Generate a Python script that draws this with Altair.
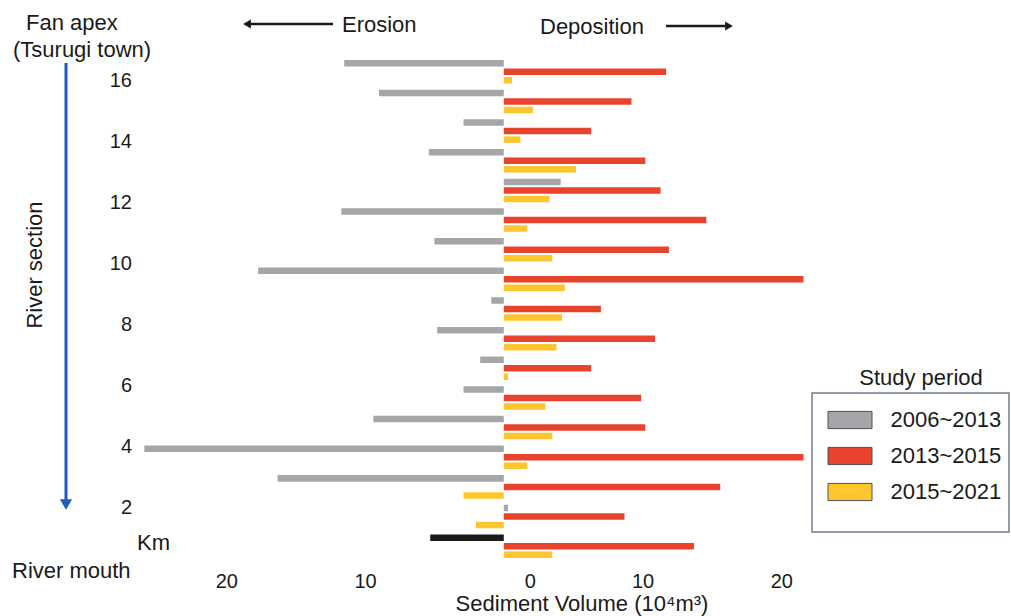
import altair as alt
import pandas as pd

# ---- data ----
sections = list(range(17, 0, -1))          # river sections, apex (top) to mouth (bottom)
periods = ["2006~2013", "2013~2015", "2015~2021"]
vol_2006_2013 = [-11.5, -9.0, -2.9, -5.4, 4.1, -11.7, -5.0, -17.7, -0.9, -4.8,
                 -1.7, -2.9, -9.4, -25.9, -16.3, 0.3, -5.3]
vol_2013_2015 = [11.7, 9.2, 6.3, 10.2, 11.3, 14.6, 11.9, 21.6, 7.0, 10.9,
                 6.3, 9.9, 10.2, 21.6, 15.6, 8.7, 13.7]
vol_2015_2021 = [0.6, 2.1, 1.2, 5.2, 3.3, 1.7, 3.5, 4.4, 4.2, 3.8,
                 0.3, 3.0, 3.5, 1.7, -2.9, -2.0, 3.5]
period_colors = ["#a4a6a9", "#e8432c", "#fdc62e"]
x_ticks = [-20, -10, 0, 10, 20]
km_ticks = [16, 14, 12, 10, 8, 6, 4, 2]

rows = []
for i, s in enumerate(sections):
    for p, vals in zip(periods, [vol_2006_2013, vol_2013_2015, vol_2015_2021]):
        rows.append({"section": s, "period": p, "value": vals[i]})
df = pd.DataFrame(rows)
km_df = pd.DataFrame({"km": km_ticks, "label": [str(k) for k in km_ticks]})
one = pd.DataFrame({"a": [0]})

L, T = 143, 57
W, H = 673, 504
FONT = "Liberation Sans"
INK = "#1a1a1a"


def px(x):
    return x - L


def py(y):
    return y - T


bars = alt.Chart(df).mark_bar().encode(
    x=alt.X(
        "value:Q", stack=None,
        scale=alt.Scale(domain=[-26, 22.5], nice=False),
        axis=alt.Axis(values=x_ticks, labelExpr="'' + abs(datum.value)",
                      domain=False, ticks=False, grid=False, title=None,
                      labelFontSize=20, labelFont=FONT, labelColor=INK,
                      labelPadding=10,
                      labelOffset={"condition": {"test": "datum.value === 0", "value": 26}, "value": 0}),
    ),
    y=alt.Y("section:O", sort="descending",
            scale=alt.Scale(paddingInner=0, paddingOuter=0), axis=None),
    yOffset=alt.YOffset("period:N", sort=periods,
                        scale=alt.Scale(paddingInner=0.235, paddingOuter=0.36)),
    color=alt.condition(
        "datum.section === 1 && datum.period === '2006~2013'",
        alt.value("#1a1a1a"),
        alt.Color("period:N", sort=periods,
                  scale=alt.Scale(domain=periods, range=period_colors),
                  legend=alt.Legend(title=None, orient="none",
                                    legendX=px(827.5), legendY=py(397.5),
                                    symbolType="M-1,-0.39H1V0.39H-1Z",
                                    symbolSize=1936, symbolStrokeColor="#505050",
                                    symbolStrokeWidth=1, labelFontSize=22,
                                    labelFont=FONT, labelColor=INK,
                                    labelOffset=18, rowPadding=2, padding=0)),
    ),
)

km_labels = alt.Chart(km_df).mark_text(
    align="right", baseline="middle", fontSize=20, font=FONT, color=INK
).encode(
    y=alt.Y("km:Q", scale=alt.Scale(domain=[0.263, 16.80], nice=False, zero=False), axis=None),
    x=alt.value(px(132)),
    text="label:N",
)


def label(text, x, y, align="left", size=22, angle=0):
    kw = dict(align=align, baseline="middle", fontSize=size, font=FONT, color=INK, text=text)
    if angle:
        kw["angle"] = angle
    return alt.Chart(one).mark_text(**kw).encode(x=alt.value(px(x)), y=alt.value(py(y)))


texts = [
    label("Fan apex", 26, 23),
    label("(Tsurugi town)", 13, 50),
    label("River section", 35, 265, align="center", angle=270),
    label("River mouth", 12, 571),
    label("Km", 137, 543),
    label("Erosion", 342, 25),
    label("Deposition", 540, 27),
    label("Sediment Volume (10\u2074m\u00b3)", 582, 604, align="center"),
    label("Study period", 921, 378, align="center"),
]

arrows = [
    alt.Chart(one).mark_rule(color=INK, strokeWidth=2.5).encode(
        x=alt.value(px(250)), x2=alt.value(px(333)), y=alt.value(py(24))),
    alt.Chart(one).mark_point(shape="triangle-left", filled=True, size=80, color=INK, opacity=1).encode(
        x=alt.value(px(247)), y=alt.value(py(24))),
    alt.Chart(one).mark_rule(color=INK, strokeWidth=2.5).encode(
        x=alt.value(px(666)), x2=alt.value(px(728)), y=alt.value(py(26))),
    alt.Chart(one).mark_point(shape="triangle-right", filled=True, size=80, color=INK, opacity=1).encode(
        x=alt.value(px(729)), y=alt.value(py(26))),
    alt.Chart(one).mark_rule(color="#1f5cb4", strokeWidth=3).encode(
        x=alt.value(px(66)), y=alt.value(py(63)), y2=alt.value(py(500))),
    alt.Chart(one).mark_point(shape="triangle-down", filled=True, size=150, color="#1f5cb4", opacity=1).encode(
        x=alt.value(px(66)), y=alt.value(py(504.5))),
]

legend_box = alt.Chart(one).mark_rect(filled=False, stroke="#6d7d8f", strokeWidth=1.5).encode(
    x=alt.value(px(812)), x2=alt.value(px(1009)), y=alt.value(py(393)), y2=alt.value(py(532)))

chart = alt.layer(bars, km_labels, legend_box, *texts, *arrows).resolve_scale(
    y="independent"
).properties(
    width=W, height=H,
    padding={"left": L, "top": T, "right": 1011 - L - W, "bottom": 616 - T - H},
    autosize=alt.AutoSizeParams(type="none"),
    background="white",
).configure_view(stroke=None)

chart.save("out.html", embed_options={"renderer": "svg", "actions": False})
